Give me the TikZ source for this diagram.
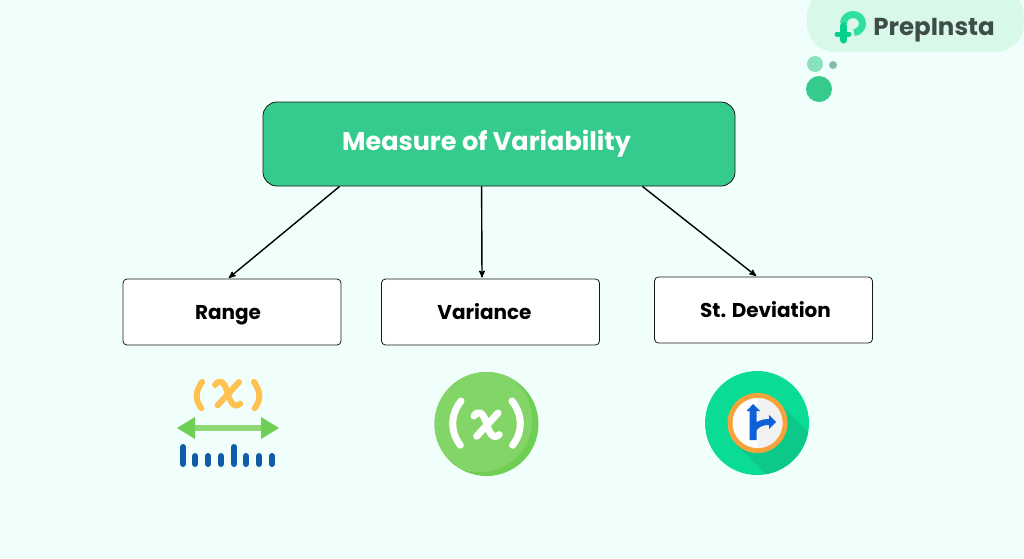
\documentclass[tikz,border=0pt]{standalone}
\usepackage{fontspec}
\setmainfont{Poppins}
\usetikzlibrary{arrows}
\definecolor{bgmint}{HTML}{F0FFFB}
\definecolor{pillmint}{HTML}{D8F8EA}
\definecolor{headgreen}{HTML}{35CB8C}
\definecolor{inkdark}{HTML}{1A1A1A}
\definecolor{logogreen}{HTML}{2FE0A2}
\definecolor{logodeep}{HTML}{06CF8C}
\definecolor{logotext}{HTML}{3F4D49}
\definecolor{parenorange}{HTML}{FFC14F}
\definecolor{leafgreen}{HTML}{8ED973}
\definecolor{leafdeep}{HTML}{6FCF55}
\definecolor{disclight}{HTML}{84D568}
\definecolor{barblue}{HTML}{0F5CA8}
\definecolor{discgreen}{HTML}{0BDC95}
\definecolor{discshade}{HTML}{0CC98A}
\definecolor{ringorange}{HTML}{F7A33C}
\definecolor{signblue}{HTML}{0F5FD8}
\tikzset{
  leaf/.style={draw=inkdark,thick,rounded corners=4pt,fill=white,minimum width=218pt,minimum height=66pt,font=\fontsize{20}{24}\selectfont\bfseries,text=black,inner sep=0pt,text height=14pt,text depth=0pt},
  root/.style={draw=inkdark,thick,rounded corners=14pt,fill=headgreen,minimum width=472pt,minimum height=84pt,font=\fontsize{25.5}{30}\selectfont\bfseries,text=white,inner sep=0pt},
  xmark/.pic={
    \draw[line cap=round,pic actions] (-13,-9) .. controls (-9,-15) and (-4,-13) .. (-1,-3) .. controls (2,8) and (6,15) .. (13,9);
    \draw[line cap=round,pic actions] (11,-12) -- (-11,12);
  }
}
\begin{document}
\begin{tikzpicture}[x=1pt,y=-1pt,->,>=stealth',shorten >=1pt,line width=1.4pt]
    \useasboundingbox (0,0) rectangle (1024,558);
    \begin{scope}[-]
    \fill[bgmint] (0,0) rectangle (1024,558);
    \fill[pillmint,rounded corners=28pt] (807,-12) rectangle (1024,52);
    \fill[headgreen!55!bgmint] (815,64) circle (8);
    \fill[black!40!headgreen!50!bgmint] (833,65) circle (4);
    \fill[headgreen] (819,89) circle (13);

    \draw[logogreen,line width=7pt] (843.5,23.5) arc (180:450:9.5 and 9);
    \draw[logodeep,line width=7pt,line cap=round] (843.5,26) -- (843.5,41);
    \draw[logodeep,line width=5pt,line cap=round] (837,34) -- (850,34);
    \node (brand) at (934,30) {\fontsize{24.5}{28}\selectfont\bfseries\textcolor{logotext}{PrepInsta}};

    \draw[parenorange,line width=6pt,line cap=round] (202,382) .. controls (195,392) and (195,400) .. (202,409);
    \draw[parenorange,line width=6pt,line cap=round] (254,382) .. controls (261,392) and (261,400) .. (254,409);
    \pic[parenorange,line width=6pt] at (228,394) {xmark};
    \draw[leafgreen,line width=6pt] (190,428) -- (265,428);
    \fill[leafdeep] (177,428) -- (195,417) -- (195,439) -- cycle;
    \fill[leafdeep] (279,428) -- (261,417) -- (261,439) -- cycle;
    \foreach \barx/\bartop in {183/445,195/454,208/454,221/454,234/445,246/454,259/454,272/454}
      \draw[barblue,line width=6pt,line cap=round] (\barx,\bartop+2) -- (\barx,465);

    \fill[leafdeep] (486.5,424) circle (52);
    \begin{scope}
      \clip (486.5,424) circle (52);
      \fill[disclight] (480,420) circle (52);
    \end{scope}
    \draw[white,line width=7pt,line cap=round] (461,401) .. controls (450,415) and (450,432) .. (461,446);
    \draw[white,line width=7pt,line cap=round] (512,401) .. controls (523,415) and (523,432) .. (512,446);
    \pic[white,line width=7pt] at (487,425) {xmark};

    \fill[discgreen] (757,423) circle (52);
    \begin{scope}
      \clip (757,423) circle (52);
      \fill[discshade] (736,444) -- (778,402) -- (838,462) -- (796,504) -- cycle;
    \end{scope}
    \fill[ringorange] (757.5,423) circle (30);
    \fill[white] (757.5,423) circle (25);
    \fill[black!5] (757.5,398) arc (-90:90:25) -- cycle;
    \fill[signblue] (749.5,411) -- (746.5,411) -- (753,404) -- (760,411) -- (756.5,411) -- (756.5,440) -- (749.5,440) -- cycle;
    \draw[signblue,line width=6pt] (753,431) .. controls (755,425) and (761,422) .. (770,422);
    \fill[signblue] (769,415) -- (776,422) -- (769,429) -- cycle;
    \end{scope}

    \node[root] (main) at (499,144) {\hspace*{-25pt}Measure of Variability};
    \node[leaf] (range) at (232,312) {\hspace*{-8pt}Range};
    \node[leaf] (variance) at (490.5,312) {\hspace*{-12pt}Variance};
    \node[leaf,text height=15pt] (deviation) at (763.5,310) {\hspace*{4pt}St. Deviation};

    \path ([xshift=77pt]main.south west) edge ([xshift=-4pt]range.north);
    \path ([xshift=219pt]main.south west) edge ([xshift=-8.5pt]variance.north);
    \path ([xshift=-93pt]main.south east) edge ([xshift=-6.5pt]deviation.north);
  \end{tikzpicture}
\end{document}
